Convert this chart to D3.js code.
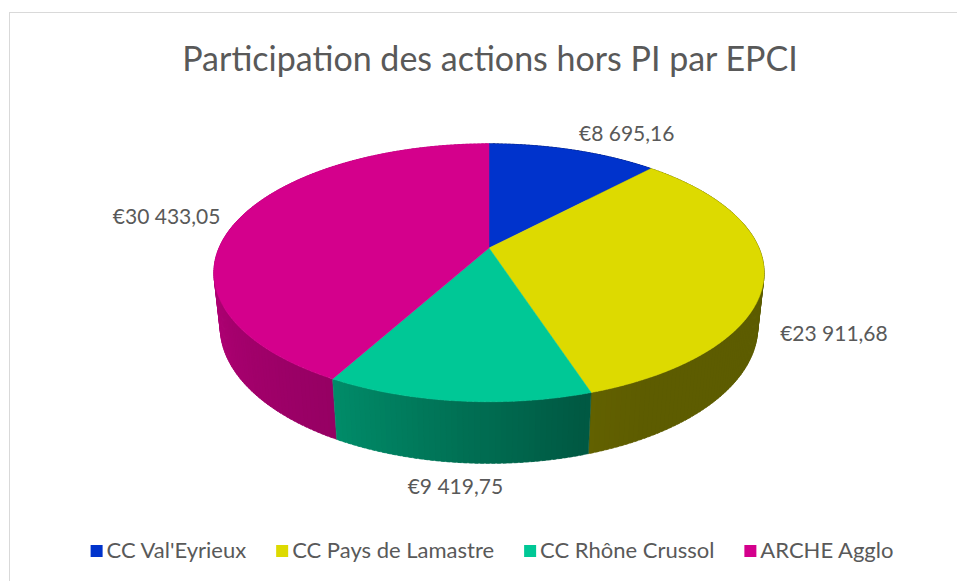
<!DOCTYPE html>
<html>
<head>
<meta charset="utf-8">
<script src="https://cdn.jsdelivr.net/npm/d3@7"></script>
<style>
  html, body { margin: 0; padding: 0; background: #fff; }
  text { font-family: Lato, "Open Sans", sans-serif; fill: #595959; }
</style>
</head>
<body>
<script>
'use strict';

const title = 'Participation des actions hors PI par EPCI';
const categories = ["CC Val'Eyrieux", 'CC Pays de Lamastre', 'CC Rhône Crussol', 'ARCHE Agglo'];
const values = [8695.16, 23911.68, 9419.75, 30433.05];
const colors = ['#0033CC', '#DDDA00', '#00C896', '#D4008C'];

let width = 957;
let height = 581;

// 3d look: tilt of the disc, camera distance, thickness (unit radius)
let sinA = 0.46;
let cosA = Math.sqrt(1 - sinA * sinA);
let dist = 4.62;
let thick = 0.228;

let fr = d3.formatLocale({decimal: ',', thousands: '\u00a0', grouping: [3], currency: ['€', '']});
let money = fr.format('$,.2f');

let svg = d3.select('body').append('svg')
  .attr('width', width)
  .attr('height', height);

svg.append('rect')
  .attr('x', 9.5).attr('y', 12.5)
  .attr('width', 1000).attr('height', 1000)
  .attr('fill', '#fff')
  .attr('stroke', '#d9d9d9');

svg.append('text')
  .attr('x', 490).attr('y', 71)
  .attr('text-anchor', 'middle')
  .style('font-size', '34px')
  .text(title);

let xs = d3.scaleLinear().domain([-1, 1]).range([489 - 270, 489 + 270]);
let ys = d3.scaleLinear().domain([-1, 1]).range([248 + 270, 248 - 270]);

// phi clockwise from 12 o'clock, r radius, y height of the plane
let project = (phi, r, y) => {
  let x = r * Math.sin(phi);
  let z = -r * Math.cos(phi);
  let u = y * cosA - z * sinA;
  let w = y * sinA + z * cosA;
  let k = dist / (dist - w);
  return [xs(x * k), ys(u * k), w];
};

let arcs = d3.pie().sort(null).value(d => d)(values);

let deg = Math.PI / 180;
let shade = d3.scaleLinear()
  .domain([0, 150, 165, 210, 270, 360])
  .range([0.42, 0.42, 0.45, 0.71, 0.86, 0.86]);

let darker = (c, f) => {
  let q = d3.rgb(c);
  return d3.rgb(q.r * f, q.g * f, q.b * f).formatHex();
};

// side walls, cut in small pieces so the light can change along them
let walls = [];
arcs.forEach((a, i) => {
  let n = Math.max(2, Math.ceil((a.endAngle - a.startAngle) / deg));
  let step = (a.endAngle - a.startAngle) / n;
  for (let j = 0; j < n; j++) {
    let p0 = a.startAngle + j * step;
    let p1 = p0 + step;
    let mid = (p0 + p1) / 2;
    // overlap the next piece a little so no seams show
    let pe = j < n - 1 ? p1 + step * 0.6 : p1;
    walls.push({
      pts: [project(p0, 1, 0), project(pe, 1, 0), project(pe, 1, -thick), project(p0, 1, -thick)],
      depth: project(mid, 1, -thick / 2)[2],
      color: darker(colors[i], shade(mid / deg))
    });
  }
});
walls.sort((a, b) => a.depth - b.depth);

let line = d3.line();

svg.append('g').attr('class', 'walls')
  .selectAll('path')
  .data(walls)
  .enter().append('path')
    .attr('d', d => line(d.pts.map(p => [p[0], p[1]])) + 'Z')
    .attr('fill', d => d.color)
    .attr('stroke', d => d.color)
    .attr('stroke-width', 0.5);

svg.append('g').attr('class', 'tops')
  .selectAll('path')
  .data(arcs)
  .enter().append('path')
    .attr('d', a => {
      let pts = [project(0, 0, 0)];
      let n = Math.max(2, Math.ceil((a.endAngle - a.startAngle) / (deg / 2)));
      for (let j = 0; j <= n; j++) {
        pts.push(project(a.startAngle + (a.endAngle - a.startAngle) * j / n, 1, 0));
      }
      return line(pts.map(p => [p[0], p[1]])) + 'Z';
    })
    .attr('fill', (a, i) => colors[i])
    .attr('stroke', (a, i) => colors[i])
    .attr('stroke-width', 0.5);

// value labels just outside the disc
svg.append('g').attr('class', 'labels')
  .selectAll('text')
  .data(arcs)
  .enter().append('text')
    .each(function(a) {
      let mid = (a.startAngle + a.endAngle) / 2;
      let front = Math.cos(mid) < 0;
      let p = project(mid, 1.08, front ? -thick : 0);
      let s = Math.sin(mid);
      let c = Math.cos(mid);
      d3.select(this)
        .attr('x', p[0])
        .attr('y', p[1])
        .attr('text-anchor', s > 0.25 ? 'start' : (s < -0.25 ? 'end' : 'middle'))
        .attr('dy', c > 0.5 ? '-0.1em' : (c < -0.5 ? '0.75em' : '0.35em'));
    })
    .style('font-size', '21px')
    .text(a => money(a.data));

// legend
let legend = svg.append('g').attr('class', 'legend');
let items = legend.selectAll('g')
  .data(categories)
  .enter().append('g');

items.append('rect')
  .attr('width', 12).attr('height', 12)
  .attr('y', -13)
  .attr('fill', (d, i) => colors[i]);

items.append('text')
  .attr('x', 16)
  .attr('y', 0)
  .style('font-size', '22px')
  .text(d => d);

let gap = 30;
let offs = [];
let total = 0;
items.each(function() {
  let w = this.getBBox().width;
  offs.push(total);
  total += w + gap;
});
total -= gap;
let start = 492 - total / 2;
items.attr('transform', (d, i) => 'translate(' + (start + offs[i]) + ',558)');
</script>
</body>
</html>
